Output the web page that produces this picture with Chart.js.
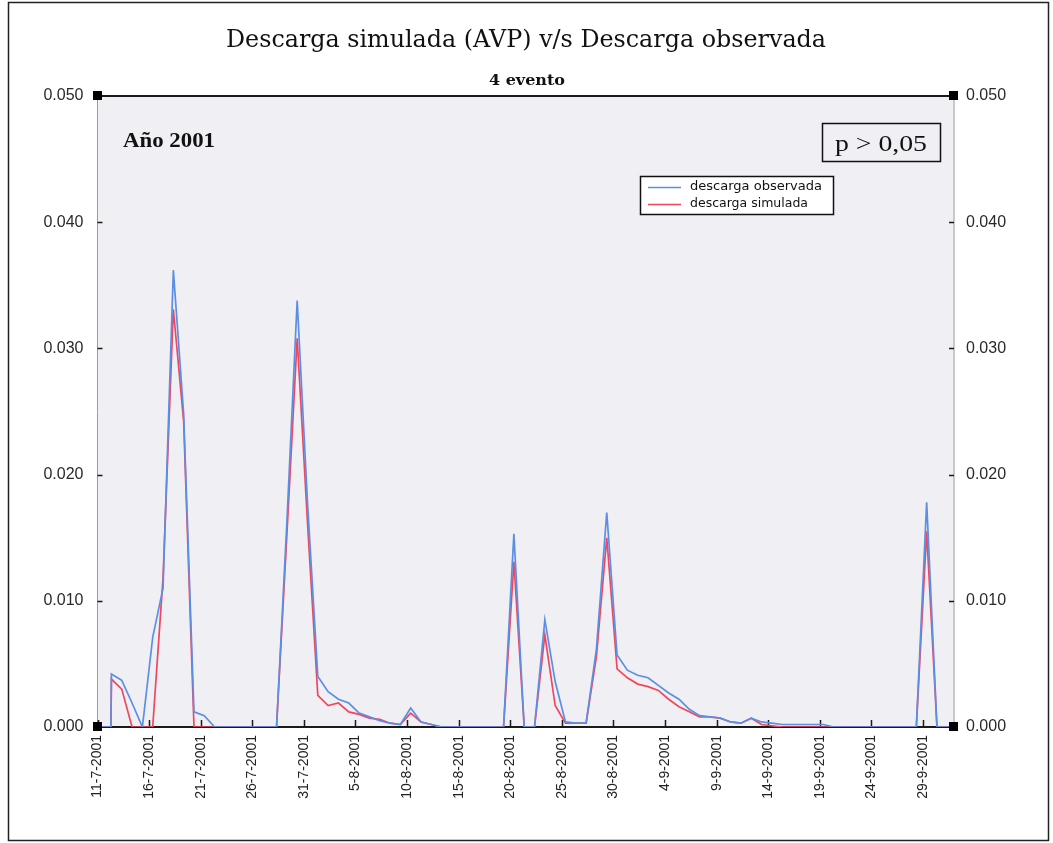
<!DOCTYPE html>
<html>
<head>
<meta charset="utf-8">
<script src="https://cdn.jsdelivr.net/npm/chart.js@4.4.1/dist/chart.umd.min.js"></script>
<style>
  html, body { margin: 0; padding: 0; background: #ffffff; }
  #wrap { position: relative; width: 1053px; height: 843px; }
</style>
</head>
<body>
<div id="wrap"><canvas id="c" width="1053" height="843"></canvas></div>
<script>
// Day offsets counted from 11-7-2001
const days = [
  0, 1.3, 1.35, 2.35, 3.35, 4.35, 5.35, 6.35, 7.35, 8.35,
  9.35, 10.35, 11.35, 12.35, 13.35, 14.35, 15.35, 16.35, 17.35, 18.35,
  19.35, 20.35, 21.35, 22.35, 23.35, 24.35, 25.35, 26.35, 27.35, 28.35,
  29.35, 30.35, 31.35, 32.35, 33.35, 34.35, 35.35, 36.35, 37.35, 38.35,
  39.35, 40.35, 41.35, 42.35, 43.35, 44.35, 45.35, 46.35, 47.35, 48.35,
  49.35, 50.35, 51.35, 52.35, 53.35, 54.35, 55.35, 56.35, 57.35, 58.35,
  59.35, 60.35, 61.35, 62.35, 63.35, 64.35, 65.35, 66.35, 67.35, 68.35,
  69.35, 70.35, 71.35, 72.35, 73.35, 74.35, 75.35, 76.35, 77.35, 78.35,
  79.35, 80.35, 81.35, 82.35, 83
];

// Observed discharge
const descargaObservada = [
  0, 0, 0.0042, 0.0037, 0.0019, 0, 0.0071, 0.0110, 0.0362, 0.0248,
  0.0012, 0.0009, 0, 0, 0, 0, 0, 0, 0, 0.0162,
  0.0338, 0.0178, 0.0040, 0.0028, 0.0022, 0.0019, 0.0011, 0.0008, 0.0005, 0.0003,
  0.0002, 0.0015, 0.0004, 0.0002, 0, 0, 0, 0, 0, 0,
  0, 0.0153, 0, 0, 0.0085, 0.0036, 0.0004, 0.0003, 0.0003, 0.0062,
  0.0170, 0.0057, 0.0045, 0.0041, 0.0039, 0.0033, 0.0027, 0.0022, 0.0014, 0.0009,
  0.0008, 0.0007, 0.0004, 0.0003, 0.0007, 0.0004, 0.0003, 0.0002, 0.0002, 0.0002,
  0.0002, 0.0002, 0, 0, 0, 0, 0, 0, 0, 0,
  0, 0.0178, 0, 0, 0
];

// Simulated discharge (AVP)
const descargaSimulada = [
  0, 0, 0.0038, 0.0030, 0, 0, 0, 0.0118, 0.0331, 0.0242,
  0, 0, 0, 0, 0, 0, 0, 0, 0, 0.0152,
  0.0308, 0.0162, 0.0025, 0.0017, 0.0019, 0.0012, 0.0010, 0.0007, 0.0006, 0.0003,
  0.0002, 0.0011, 0.0004, 0.0002, 0, 0, 0, 0, 0, 0,
  0, 0.0131, 0, 0, 0.0073, 0.0017, 0.0003, 0.0003, 0.0003, 0.0056,
  0.0150, 0.0046, 0.0039, 0.0034, 0.0032, 0.0029, 0.0022, 0.0016, 0.0012, 0.0008,
  0.0008, 0.0007, 0.0004, 0.0003, 0.0007, 0.0002, 0.0001, 0, 0, 0,
  0, 0, 0, 0, 0, 0, 0, 0, 0, 0,
  0, 0.0155, 0, 0, 0
];

// Date labels, one every five days
const dateTicks = [
  '11-7-2001', '16-7-2001', '21-7-2001', '26-7-2001', '31-7-2001',
  '5-8-2001', '10-8-2001', '15-8-2001', '20-8-2001', '25-8-2001',
  '30-8-2001', '4-9-2001', '9-9-2001', '14-9-2001', '19-9-2001',
  '24-9-2001', '29-9-2001'
];

const seriesNames = ['descarga observada', 'descarga simulada'];
const seriesColors = ['#5b8fe4', '#f0475e'];

const toPoints = (vals) => vals.map((v, i) => ({ x: days[i], y: v }));

// Draw text squeezed or stretched to a given width
function fitText(ctx, text, x, y, width, font, align) {
  ctx.save();
  ctx.font = font;
  const w = ctx.measureText(text).width;
  const k = width / w;
  let left = x;
  if (align === 'center') left = x - width / 2;
  ctx.translate(left, y);
  ctx.scale(k, 1);
  ctx.textAlign = 'left';
  ctx.fillText(text, 0, 0);
  ctx.restore();
}

const decor = {
  id: 'decor',
  beforeDraw(chart) {
    const { ctx, chartArea: a } = chart;
    ctx.save();
    ctx.fillStyle = '#ffffff';
    ctx.fillRect(0, 0, chart.width, chart.height);
    // outer frame
    ctx.strokeStyle = '#222';
    ctx.lineWidth = 1.5;
    ctx.strokeRect(8.5, 2.5, 1040, 838);
    // plot background
    ctx.fillStyle = '#efeff4';
    ctx.fillRect(a.left, a.top, a.right - a.left, a.bottom - a.top);
    // plot frame
    ctx.strokeStyle = '#9a9aa2';
    ctx.lineWidth = 1;
    ctx.beginPath();
    ctx.moveTo(a.left, a.top); ctx.lineTo(a.left, a.bottom);
    ctx.moveTo(a.right, a.top); ctx.lineTo(a.right, a.bottom);
    ctx.stroke();
    ctx.strokeStyle = '#1a1a1a';
    ctx.lineWidth = 2;
    ctx.beginPath();
    ctx.moveTo(a.left, a.top); ctx.lineTo(a.right, a.top);
    ctx.moveTo(a.left, a.bottom); ctx.lineTo(a.right, a.bottom);
    ctx.stroke();
    // inward tick marks
    const xs = chart.scales.x, ys = chart.scales.y;
    ctx.strokeStyle = '#1a1a1a';
    ctx.lineWidth = 1.5;
    ctx.beginPath();
    xs.ticks.forEach(t => {
      const px = Math.round(xs.getPixelForValue(t.value)) + 0.5;
      ctx.moveTo(px, a.bottom); ctx.lineTo(px, a.bottom - 7);
    });
    ys.ticks.forEach(t => {
      if (t.value <= 0 || t.value >= 0.05) return;
      const py = Math.round(ys.getPixelForValue(t.value)) + 0.5;
      ctx.moveTo(a.left, py); ctx.lineTo(a.left + 5, py);
      ctx.moveTo(a.right, py); ctx.lineTo(a.right - 5, py);
    });
    ctx.stroke();
    ctx.restore();
  },
  afterDraw(chart) {
    const { ctx, chartArea: a } = chart;
    ctx.save();
    // corner markers
    ctx.fillStyle = '#000';
    [[a.left, a.top], [a.right, a.top], [a.left, a.bottom], [a.right, a.bottom]].forEach(([cx, cy]) => {
      ctx.fillRect(Math.round(cx) - 5, Math.round(cy) - 5, 9, 9);
    });

    // titles
    ctx.fillStyle = '#111';
    ctx.textBaseline = 'alphabetic';
    fitText(ctx, 'Descarga simulada (AVP) v/s Descarga observada', 526, 47, 600, '24px "DejaVu Serif"', 'center');
    fitText(ctx, '4 evento', 527, 85, 76, 'bold 15px "DejaVu Serif"', 'center');

    // annotations
    fitText(ctx, 'Año 2001', 123, 147, 92, 'bold 20px "Liberation Serif"', 'left');
    ctx.strokeStyle = '#111';
    ctx.lineWidth = 1.5;
    ctx.strokeRect(822.5, 123.5, 118, 38);
    fitText(ctx, 'p > 0,05', 835, 151, 92, '23px "Liberation Serif"', 'left');

    // legend
    const lx = 640, ly = 176, lw = 193, lh = 38;
    ctx.fillStyle = '#ffffff';
    ctx.fillRect(lx, ly, lw, lh);
    ctx.strokeStyle = '#111';
    ctx.lineWidth = 1.5;
    ctx.strokeRect(lx + 0.5, ly + 0.5, lw, lh);
    seriesNames.forEach((name, i) => {
      const y = ly + 11 + i * 17;
      ctx.strokeStyle = seriesColors[i];
      ctx.lineWidth = 1.3;
      ctx.beginPath();
      ctx.moveTo(lx + 8, y + 0.5); ctx.lineTo(lx + 41, y + 0.5);
      ctx.stroke();
      ctx.fillStyle = '#111';
      ctx.textBaseline = 'middle';
      fitText(ctx, name, lx + 50, y, i === 0 ? 132 : 118, '13px "DejaVu Sans"', 'left');
    });
    ctx.restore();
  }
};

const yTickCommon = {
  stepSize: 0.01,
  color: '#2a2a2a',
  font: { family: '"Liberation Sans", Arial, sans-serif', size: 16 },
  callback: (v) => v.toFixed(3)
};

new Chart(document.getElementById('c'), {
  type: 'line',
  data: {
    datasets: [
      {
        label: seriesNames[0],
        data: toPoints(descargaObservada),
        borderColor: seriesColors[0],
        borderWidth: 1.7,
        pointRadius: 0,
        tension: 0,
        fill: false
      },
      {
        label: seriesNames[1],
        data: toPoints(descargaSimulada),
        borderColor: seriesColors[1],
        borderWidth: 1.7,
        pointRadius: 0,
        tension: 0,
        fill: false
      }
    ]
  },
  options: {
    responsive: false,
    animation: false,
    devicePixelRatio: 1,
    layout: { padding: { top: 96, left: 0, right: 0, bottom: 0 } },
    plugins: {
      legend: { display: false },
      title: { display: false },
      tooltip: { enabled: false }
    },
    scales: {
      x: {
        type: 'linear',
        position: 'bottom',
        min: 0,
        max: 83,
        grid: { display: false, drawTicks: false },
        border: { display: false },
        ticks: {
          stepSize: 5,
          includeBounds: false,
          autoSkip: false,
          minRotation: 90,
          maxRotation: 90,
          padding: 8,
          color: '#222',
          font: { family: '"Liberation Sans", Arial, sans-serif', size: 14 },
          callback: (v) => dateTicks[Math.round(v / 5)]
        },
        afterFit: (s) => { s.height = 843 - 727; }
      },
      y: {
        position: 'left',
        min: 0,
        max: 0.05,
        grid: { display: false, drawTicks: false },
        border: { display: false },
        ticks: Object.assign({ padding: 14 }, yTickCommon),
        afterFit: (s) => { s.width = 97.5; }
      },
      y2: {
        position: 'right',
        min: 0,
        max: 0.05,
        grid: { display: false, drawTicks: false },
        border: { display: false },
        ticks: Object.assign({ padding: 12 }, yTickCommon),
        afterFit: (s) => { s.width = 1053 - 954; }
      }
    }
  },
  plugins: [decor]
});
</script>
</body>
</html>
